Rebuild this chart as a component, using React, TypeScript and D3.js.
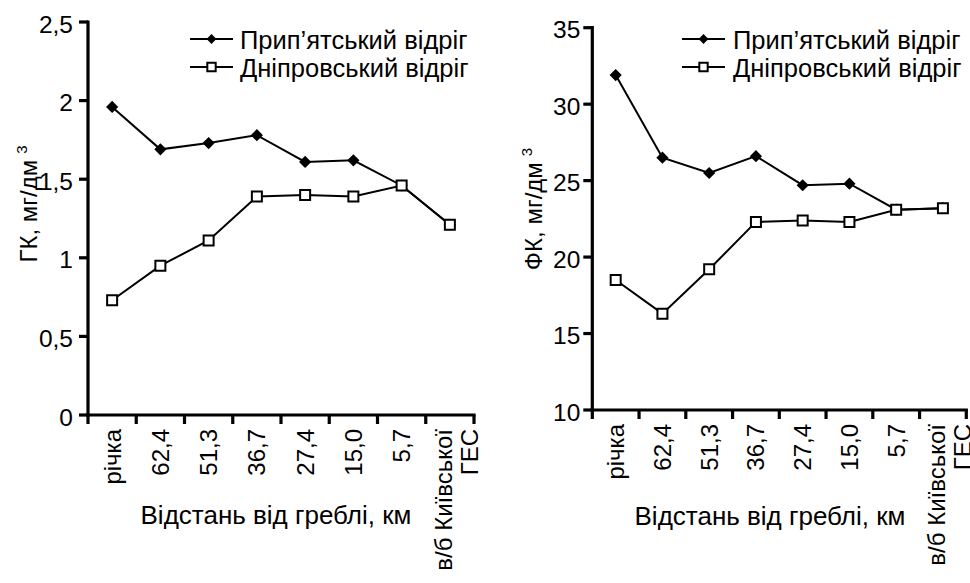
import React from 'react';
import * as d3 from 'd3';

const categories = ['річка', '62,4', '51,3', '36,7', '27,4', '15,0', '5,7', 'в/б Київської\nГЕС'];
const pripyatGK = [1.96, 1.69, 1.73, 1.78, 1.61, 1.62, 1.46, 1.21];
const dniproGK = [0.73, 0.95, 1.11, 1.39, 1.40, 1.39, 1.46, 1.21];
const pripyatFK = [31.9, 26.5, 25.5, 26.6, 24.7, 24.8, 23.1, 23.2];
const dniproFK = [18.5, 16.3, 19.2, 22.3, 22.4, 22.3, 23.1, 23.2];
const gkTicks = [0, 0.5, 1, 1.5, 2, 2.5];
const fkTicks = [10, 15, 20, 25, 30, 35];
const seriesNames = ['Прип’ятський відріг', 'Дніпровський відріг'];
const xTitle = 'Відстань від греблі, км';
const gkLabel = 'ГК, мг/дм';
const fkLabel = 'ФК, мг/дм';

const FONT = '"Liberation Sans", Arial, sans-serif';
const fmt = (v: number) => String(v).replace('.', ',');

type Cfg = {
  x0: number; x1: number; yTop: number; yBottom: number;
  domain: [number, number]; ticks: number[];
  pri: number[]; dni: number[];
  ylabel: string; ylabelX: number; ylabelY: number;
  tickLabelGap: number;
  legLine0: number; legLine1: number; legText: number; legRows: number[];
  titleX: number; titleY: number;
};

const diamondPath = d3.symbol(d3.symbolSquare, 74)()!;
const squarePath = d3.symbol(d3.symbolSquare, 100)()!;
const legDiamond = d3.symbol(d3.symbolSquare, 48)()!;
const legSquare = d3.symbol(d3.symbolSquare, 70)()!;

function Panel({ c }: { c: Cfg }) {
  const x = d3.scaleBand<string>().domain(categories).range([c.x0, c.x1]).padding(0);
  const y = d3.scaleLinear().domain(c.domain).range([c.yBottom, c.yTop]);
  const cx = (i: number) => (x(categories[i]) as number) + x.bandwidth() / 2;
  const line = d3.line<number>().x((_, i) => cx(i)).y((d) => y(d));
  const edges = [...categories.map((k) => x(k) as number), c.x1];
  const tickLen = 9;
  return (
    <g>
      <path d={line(c.pri)!} fill="none" stroke="#000" strokeWidth={2} />
      <path d={line(c.dni)!} fill="none" stroke="#000" strokeWidth={2} />
      {c.pri.map((v, i) => (
        <path key={'p' + i} d={diamondPath} transform={`translate(${cx(i)},${y(v)}) rotate(45)`} fill="#000" />
      ))}
      {c.dni.map((v, i) => (
        <path key={'d' + i} d={squarePath} transform={`translate(${cx(i)},${y(v)})`} fill="#fff" stroke="#000" strokeWidth={2} />
      ))}
      <line x1={c.x0} x2={c.x0} y1={c.yTop} y2={c.yBottom} stroke="#000" strokeWidth={3.2} strokeLinecap="square" />
      {c.ticks.map((t) => (
        <g key={'yt' + t}>
          <line x1={c.x0 - tickLen} x2={c.x0} y1={y(t)} y2={y(t)} stroke="#000" strokeWidth={3.2} />
          <text x={c.x0 - tickLen - c.tickLabelGap} y={y(t) + 10.5} textAnchor="end" fontSize={24.5} fontFamily={FONT}>{fmt(t)}</text>
        </g>
      ))}
      <line x1={c.x0} x2={c.x1} y1={c.yBottom} y2={c.yBottom} stroke="#000" strokeWidth={3.2} strokeLinecap="square" />
      {edges.map((e, i) => (
        <line key={'xt' + i} x1={e} x2={e} y1={c.yBottom} y2={c.yBottom + tickLen} stroke="#000" strokeWidth={3.2} />
      ))}
      {categories.map((k, i) => {
        const lines = k.split('\n');
        const multi = lines.length > 1;
        return (
          <text key={'xl' + i} transform={`translate(${cx(i)},${c.yBottom + 14}) rotate(-90)`} textAnchor="end" fontSize={24} fontFamily={FONT}>
            {lines.map((ln, j) => (
              <tspan key={j} x={0} y={multi ? 2 + j * 26 : 8.5}>{ln}</tspan>
            ))}
          </text>
        );
      })}
      <text transform={`translate(${c.ylabelX},${c.ylabelY}) rotate(-90)`} textAnchor="middle" fontSize={24} fontFamily={FONT}>
        {c.ylabel}
        <tspan dx={6} dy={-10} fontSize={15}>3</tspan>
      </text>
      <text x={c.titleX} y={c.titleY} textAnchor="middle" fontSize={26} fontFamily={FONT}>{xTitle}</text>
      {seriesNames.map((n, j) => {
        const ry = c.legRows[j];
        const mx = (c.legLine0 + c.legLine1) / 2;
        return (
          <g key={'lg' + j}>
            <line x1={c.legLine0} x2={c.legLine1} y1={ry} y2={ry} stroke="#000" strokeWidth={2} />
            {j === 0 ? (
              <path d={legDiamond} transform={`translate(${mx},${ry}) rotate(45)`} fill="#000" />
            ) : (
              <path d={legSquare} transform={`translate(${mx},${ry})`} fill="#fff" stroke="#000" strokeWidth={2} />
            )}
            <text x={c.legText} y={ry + 9.5} fontSize={25.5} fontFamily={FONT}>{n}</text>
          </g>
        );
      })}
    </g>
  );
}

const leftCfg: Cfg = {
  x0: 88, x1: 474, yTop: 22, yBottom: 415, domain: [0, 2.5], ticks: gkTicks,
  pri: pripyatGK, dni: dniproGK,
  ylabel: gkLabel, ylabelX: 37, ylabelY: 204, tickLabelGap: 6,
  legLine0: 190, legLine1: 233, legText: 240, legRows: [39, 67],
  titleX: 276, titleY: 524,
};
const rightCfg: Cfg = {
  x0: 592.3, x1: 966.3, yTop: 27.7, yBottom: 410, domain: [10, 35], ticks: fkTicks,
  pri: pripyatFK, dni: dniproFK,
  ylabel: fkLabel, ylabelX: 541.5, ylabelY: 209, tickLabelGap: 3,
  legLine0: 682, legLine1: 725, legText: 733, legRows: [39, 67],
  titleX: 770, titleY: 525,
};

export default function App() {
  return (
    <svg width={970} height={583} style={{ position: 'absolute', left: 0, top: 0, background: '#fff' }}>
      <rect width={970} height={583} fill="#fff" />
      <Panel c={leftCfg} />
      <Panel c={rightCfg} />
    </svg>
  );
}
